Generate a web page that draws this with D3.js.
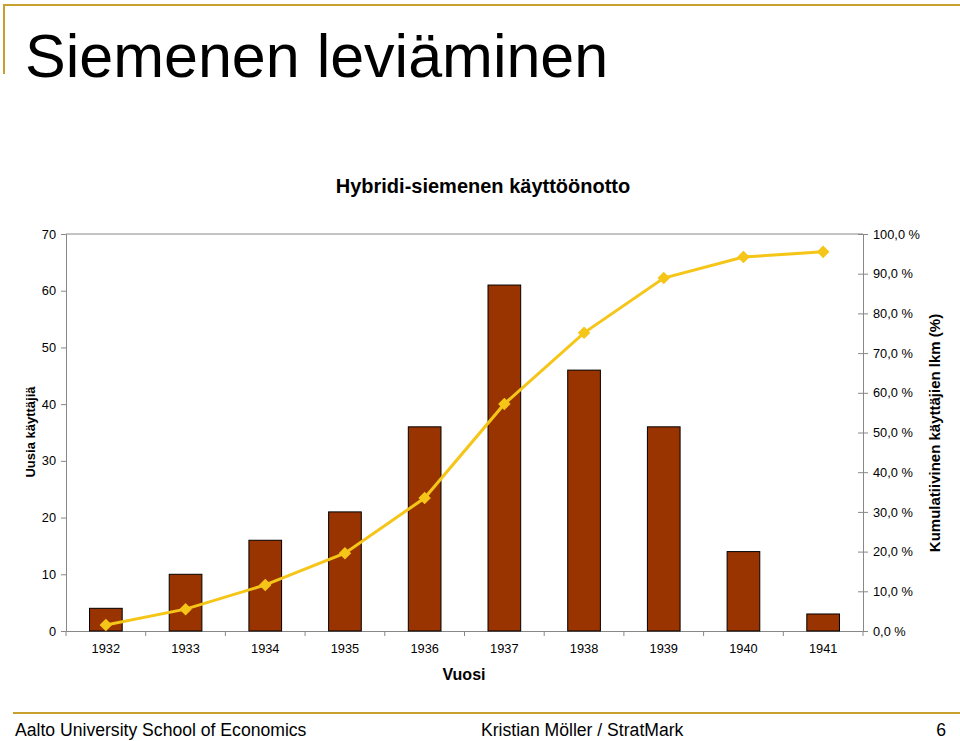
<!DOCTYPE html>
<html><head><meta charset="utf-8">
<script src="https://cdn.jsdelivr.net/npm/d3@7"></script>
<style>body{margin:0;background:#fff}svg{display:block;font-family:"Liberation Sans",Arial,sans-serif}</style>
</head><body>
<script>
const years = ["1932","1933","1934","1935","1936","1937","1938","1939","1940","1941"];
const newUsers = [4,10,16,21,36,61,46,36,14,3];
const cumulativePct = [1.5,5.5,11.6,19.6,33.5,57.2,75.1,88.9,94.2,95.5];
const leftTicks = [0,10,20,30,40,50,60,70];
const rightTicks = [0,10,20,30,40,50,60,70,80,90,100];

const W=960,H=741;
const svg=d3.select("body").append("svg").attr("width",W).attr("height",H);
const gold="#C8A030";
// slide decorations
svg.append("line").attr("x1",3).attr("x2",W).attr("y1",5).attr("y2",5).attr("stroke",gold).attr("stroke-width",2);
svg.append("line").attr("x1",4).attr("x2",4).attr("y1",5).attr("y2",74).attr("stroke",gold).attr("stroke-width",2);
svg.append("line").attr("x1",13).attr("x2",W).attr("y1",713).attr("y2",713).attr("stroke",gold).attr("stroke-width",2);
svg.append("text").attr("x",25).attr("y",77).attr("font-size",61).attr("fill","#000").text("Siemenen leviäminen");
svg.append("text").attr("x",15).attr("y",736).attr("font-size",17.6).text("Aalto University School of Economics");
svg.append("text").attr("x",481).attr("y",736).attr("font-size",17.6).text("Kristian Möller / StratMark");
svg.append("text").attr("x",946).attr("y",736).attr("font-size",17.6).attr("text-anchor","end").text("6");

const L=66,R=863,T=234,B=631;
const x=d3.scaleBand().domain(years).range([L,R]);
const y=d3.scaleLinear().domain([0,70]).range([B,T]);
const y2=d3.scaleLinear().domain([0,100]).range([B,T]);
const axisCol="#888";
const tickFont=12.8;

svg.append("text").attr("x",483).attr("y",193).attr("text-anchor","middle").attr("font-size",20).attr("font-weight","bold").text("Hybridi-siemenen käyttöönotto");

// plot frame top
svg.append("line").attr("x1",L).attr("x2",R).attr("y1",T).attr("y2",T).attr("stroke",axisCol);

// left axis
const gl=svg.append("g").attr("transform",`translate(${L},0)`).call(d3.axisLeft(y).tickValues(leftTicks).tickSize(5).tickPadding(5));
gl.selectAll("path,line").attr("stroke",axisCol);
gl.selectAll("text").attr("font-size",tickFont).attr("fill","#000").attr("font-family","Liberation Sans, Arial");

// right axis
const gr=svg.append("g").attr("transform",`translate(${R},0)`).call(d3.axisRight(y2).tickValues(rightTicks).tickSize(5).tickPadding(5).tickFormat(d=>d.toFixed(1).replace(".",",")+" %"));
gr.selectAll("path,line").attr("stroke",axisCol);
gr.selectAll(".tick line").attr("x1",-5);
gr.selectAll("text").attr("font-size",tickFont).attr("fill","#000").attr("font-family","Liberation Sans, Arial");

// bottom axis
const gb=svg.append("g").attr("transform",`translate(0,${B})`).call(d3.axisBottom(x).tickSize(0).tickPadding(13));
gb.select("path").attr("stroke",axisCol);
gb.selectAll("text").attr("font-size",tickFont).attr("fill","#000").attr("font-family","Liberation Sans, Arial");
const bounds=years.map(d=>x(d)).concat([R]);
svg.append("g").selectAll("line").data(bounds).join("line").attr("x1",d=>d).attr("x2",d=>d).attr("y1",B).attr("y2",B+5).attr("stroke",axisCol);

// bars
const bw=x.bandwidth()*0.41;
svg.append("g").selectAll("rect").data(newUsers).join("rect")
 .attr("x",(d,i)=>x(years[i])+x.bandwidth()/2-bw/2).attr("width",bw)
 .attr("y",d=>y(d)).attr("height",d=>B-y(d))
 .attr("fill","#993300").attr("stroke","#000").attr("stroke-width",1);

// line
const line=d3.line().x((d,i)=>x(years[i])+x.bandwidth()/2).y(d=>y2(d));
svg.append("path").datum(cumulativePct).attr("d",line).attr("fill","none").attr("stroke","#F5C518").attr("stroke-width",3);
svg.append("g").selectAll("path").data(cumulativePct).join("path")
 .attr("d",d3.symbol().type(d3.symbolDiamond2 || d3.symbolDiamond).size(100))
 .attr("transform",(d,i)=>`translate(${x(years[i])+x.bandwidth()/2},${y2(d)})`)
 .attr("fill","#F5C518");

// axis titles
svg.append("text").attr("transform","translate(35,432) rotate(-90)").attr("text-anchor","middle").attr("font-size",13).attr("font-weight","bold").text("Uusia käyttäjiä");
svg.append("text").attr("transform","translate(940,433) rotate(-90)").attr("text-anchor","middle").attr("font-size",15).attr("font-weight","bold").text("Kumulatiivinen käyttäjien lkm (%)");
svg.append("text").attr("x",464).attr("y",680).attr("text-anchor","middle").attr("font-size",16).attr("font-weight","bold").text("Vuosi");
</script>
</body></html>
